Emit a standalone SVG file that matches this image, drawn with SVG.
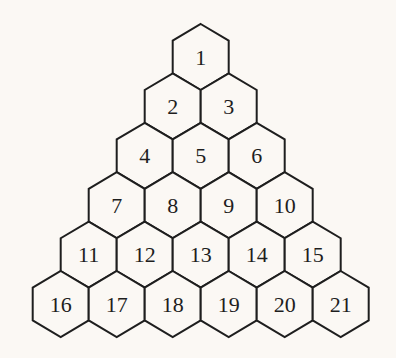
<svg xmlns="http://www.w3.org/2000/svg" xmlns:xlink="http://www.w3.org/1999/xlink" width="396" height="358" viewBox="0 0 396 358">
<style>
.hex{fill:#fbf8f4;stroke:#1e1e1e;stroke-width:2;stroke-linejoin:miter}
.lbl{font-family:"Liberation Serif","Times New Roman",serif;font-size:22px;fill:#1e1e1e;text-anchor:middle}
</style>
<defs>
<path id="h" class="hex" d="M0,-33 L28,-16.4 L28,16.4 L0,33 L-28,16.4 L-28,-16.4 Z"/>
</defs>
<rect width="396" height="358" fill="#fbf8f4"/>
<g id="n1"><use href="#h" x="200.7" y="57"/><text class="lbl" x="200.7" y="64.5">1</text></g>
<g id="n2"><use href="#h" x="172.7" y="106.4"/><text class="lbl" x="172.7" y="113.9">2</text></g>
<g id="n3"><use href="#h" x="228.7" y="106.4"/><text class="lbl" x="228.7" y="113.9">3</text></g>
<g id="n4"><use href="#h" x="144.7" y="155.8"/><text class="lbl" x="144.7" y="163.3">4</text></g>
<g id="n5"><use href="#h" x="200.7" y="155.8"/><text class="lbl" x="200.7" y="163.3">5</text></g>
<g id="n6"><use href="#h" x="256.7" y="155.8"/><text class="lbl" x="256.7" y="163.3">6</text></g>
<g id="n7"><use href="#h" x="116.7" y="205.2"/><text class="lbl" x="116.7" y="212.7">7</text></g>
<g id="n8"><use href="#h" x="172.7" y="205.2"/><text class="lbl" x="172.7" y="212.7">8</text></g>
<g id="n9"><use href="#h" x="228.7" y="205.2"/><text class="lbl" x="228.7" y="212.7">9</text></g>
<g id="n10"><use href="#h" x="284.7" y="205.2"/><text class="lbl" x="284.7" y="212.7">10</text></g>
<g id="n11"><use href="#h" x="88.7" y="254.6"/><text class="lbl" x="88.7" y="262.1">11</text></g>
<g id="n12"><use href="#h" x="144.7" y="254.6"/><text class="lbl" x="144.7" y="262.1">12</text></g>
<g id="n13"><use href="#h" x="200.7" y="254.6"/><text class="lbl" x="200.7" y="262.1">13</text></g>
<g id="n14"><use href="#h" x="256.7" y="254.6"/><text class="lbl" x="256.7" y="262.1">14</text></g>
<g id="n15"><use href="#h" x="312.7" y="254.6"/><text class="lbl" x="312.7" y="262.1">15</text></g>
<g id="n16"><use href="#h" x="60.7" y="304"/><text class="lbl" x="60.7" y="311.5">16</text></g>
<g id="n17"><use href="#h" x="116.7" y="304"/><text class="lbl" x="116.7" y="311.5">17</text></g>
<g id="n18"><use href="#h" x="172.7" y="304"/><text class="lbl" x="172.7" y="311.5">18</text></g>
<g id="n19"><use href="#h" x="228.7" y="304"/><text class="lbl" x="228.7" y="311.5">19</text></g>
<g id="n20"><use href="#h" x="284.7" y="304"/><text class="lbl" x="284.7" y="311.5">20</text></g>
<g id="n21"><use href="#h" x="340.7" y="304"/><text class="lbl" x="340.7" y="311.5">21</text></g>
<g id="connectors"></g>
</svg>
